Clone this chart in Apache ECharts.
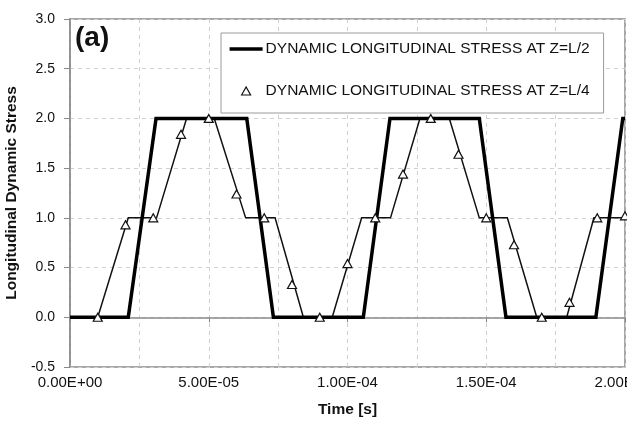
<!DOCTYPE html>
<html>
<head>
<meta charset="utf-8">
<script src="https://cdn.jsdelivr.net/npm/echarts@6/dist/echarts.min.js"></script>
<style>
  html, body { margin: 0; padding: 0; background: #fff; }
  #chart { width: 627px; height: 425px; }
</style>
</head>
<body>
<div id="chart"></div>
<script>
// ---- Data (time in seconds) ----
const halfTimes  = [0, 2.10e-5, 3.10e-5, 6.37e-5, 7.33e-5, 10.57e-5, 11.53e-5, 14.75e-5, 15.71e-5, 18.95e-5, 19.92e-5, 20.0e-5];
const halfValues = [0, 0,       2.0,     2.0,     0,       0,        2.0,      2.0,      0,        0,        2.0,      2.0];

const quarterTimes  = [0, 1.0e-5, 2.10e-5, 3.12e-5, 4.20e-5, 5.20e-5, 6.33e-5, 7.39e-5, 8.41e-5, 9.45e-5, 10.51e-5, 11.55e-5, 12.61e-5, 13.67e-5, 14.75e-5, 15.76e-5, 16.82e-5, 17.90e-5, 18.88e-5, 20.0e-5];
const quarterValues = [0, 0,      1.0,     1.0,     2.0,     2.0,     1.0,     1.0,     0,       0,       1.0,      1.0,      2.0,      2.0,      1.0,      1.0,      0,        0,        1.0,      1.0];

const markerTimes  = [1e-5, 2e-5, 3e-5, 4e-5, 5e-5, 6e-5, 7e-5, 8e-5, 9e-5, 10e-5, 11e-5, 12e-5, 13e-5, 14e-5, 15e-5, 16e-5, 17e-5, 18e-5, 19e-5, 20e-5];
const markerValues = [0,    0.93, 1.0,  1.84, 2.0,  1.24, 1.0,  0.33, 0,    0.54,  1.0,   1.44,  2.0,   1.64,  1.0,   0.73,  0,     0.15,  1.0,   1.02];

const yTicks = [-0.5, 0.0, 0.5, 1.0, 1.5, 2.0, 2.5, 3.0];
const xTickLabels = ['0.00E+00', '5.00E-05', '1.00E-04', '1.50E-04', '2.00E-04'];

const nameHalf = 'DYNAMIC LONGITUDINAL STRESS AT Z=L/2';
const nameQuarter = 'DYNAMIC LONGITUDINAL STRESS AT Z=L/4';

function pairs(xs, ys) { return xs.map((x, i) => [x, ys[i]]); }

const chart = echarts.init(document.getElementById('chart'), null, { renderer: 'canvas' });
const font = 'Liberation Sans, Arial, Helvetica, sans-serif';

chart.setOption({
  animation: false,
  backgroundColor: '#fff',
  textStyle: { fontFamily: font },
  grid: {
    left: 70, right: 2, top: 19, bottom: 58,
    containLabel: false, outerBoundsMode: 'none',
    show: true, borderColor: '#8a8a8a', borderWidth: 1.5, backgroundColor: 'transparent'
  },
  legend: {
    orient: 'vertical',
    left: 221, top: 33,
    padding: [8, 14, 14, 8],
    itemGap: 26,
    itemWidth: 33, itemHeight: 9,
    borderColor: '#9a9a9a', borderWidth: 1, backgroundColor: '#fff',
    textStyle: { fontFamily: font, fontSize: 15.5, color: '#111', padding: [0, 0, 0, -2] },
    data: [
      { name: nameHalf, icon: 'path://M0,0 M33,9 M0,2.75 L33,2.75 L33,6.25 L0,6.25 Z',
        itemStyle: { color: '#000', borderWidth: 0 } },
      { name: nameQuarter, icon: 'path://M0,0 M33,9 M12,8.5 L16.5,0.5 L21,8.5 Z',
        itemStyle: { color: '#fff', borderColor: '#111', borderWidth: 1.2 } }
    ]
  },
  xAxis: {
    type: 'value',
    min: 0, max: 2e-4, interval: 5e-5,
    name: 'Time [s]', nameLocation: 'middle', nameGap: 35,
    nameTextStyle: { fontFamily: font, fontSize: 15.5, fontWeight: 'bold', color: '#111' },
    axisLine: { show: true, lineStyle: { color: '#8a8a8a', width: 1.5 } },
    axisTick: { show: true, length: 5, lineStyle: { color: '#8a8a8a' } },
    axisLabel: {
      margin: 8, fontSize: 15, color: '#111', fontFamily: font,
      showMaxLabel: true, hideOverlap: false,
      formatter: function (v) {
        const idx = Math.round(v / 5e-5);
        return xTickLabels[idx] !== undefined ? xTickLabels[idx] : '';
      }
    },
    splitLine: { show: true, lineStyle: { color: '#d0d0d0', type: [4, 4], width: 1 } },
    minorTick: { show: false, splitNumber: 2 },
    minorSplitLine: { show: true, lineStyle: { color: '#d0d0d0', type: [4, 4], width: 1 } }
  },
  yAxis: {
    type: 'value',
    min: -0.5, max: 3.0, interval: 0.5,
    name: 'Longitudinal Dynamic Stress', nameLocation: 'middle', nameGap: 46,
    nameTextStyle: { fontFamily: font, fontSize: 15.5, fontWeight: 'bold', color: '#111' },
    axisLine: { show: true, lineStyle: { color: '#8a8a8a', width: 1.5 } },
    axisTick: { show: true, length: 6, lineStyle: { color: '#8a8a8a' } },
    axisLabel: {
      margin: 15, fontSize: 14, color: '#111', fontFamily: font,
      formatter: function (v) {
        const t = yTicks.find(y => Math.abs(y - v) < 1e-9);
        return t !== undefined ? t.toFixed(1) : '';
      }
    },
    splitLine: { show: true, lineStyle: { color: '#d0d0d0', type: [4, 4], width: 1 } }
  },
  graphic: [{
    type: 'text', left: 75, top: 24, z: 10,
    style: { text: '(a)', font: 'bold 28px ' + font, fill: '#111' }
  }],
  series: [
    {
      name: 'quarterLine', type: 'line', data: pairs(quarterTimes, quarterValues),
      symbol: 'none', lineStyle: { color: '#111', width: 1.5, join: 'miter' },
      z: 2, silent: true
    },
    {
      name: nameHalf, type: 'line', data: pairs(halfTimes, halfValues),
      symbol: 'none', lineStyle: { color: '#000', width: 3.5, join: 'miter' },
      itemStyle: { color: '#000' },
      z: 3
    },
    {
      name: nameQuarter, type: 'scatter', data: pairs(markerTimes, markerValues),
      symbol: 'triangle', symbolSize: [9, 8],
      itemStyle: { color: '#fff', borderColor: '#111', borderWidth: 1.2, opacity: 1 },
      z: 4
    }
  ]
});
</script>
</body>
</html>
